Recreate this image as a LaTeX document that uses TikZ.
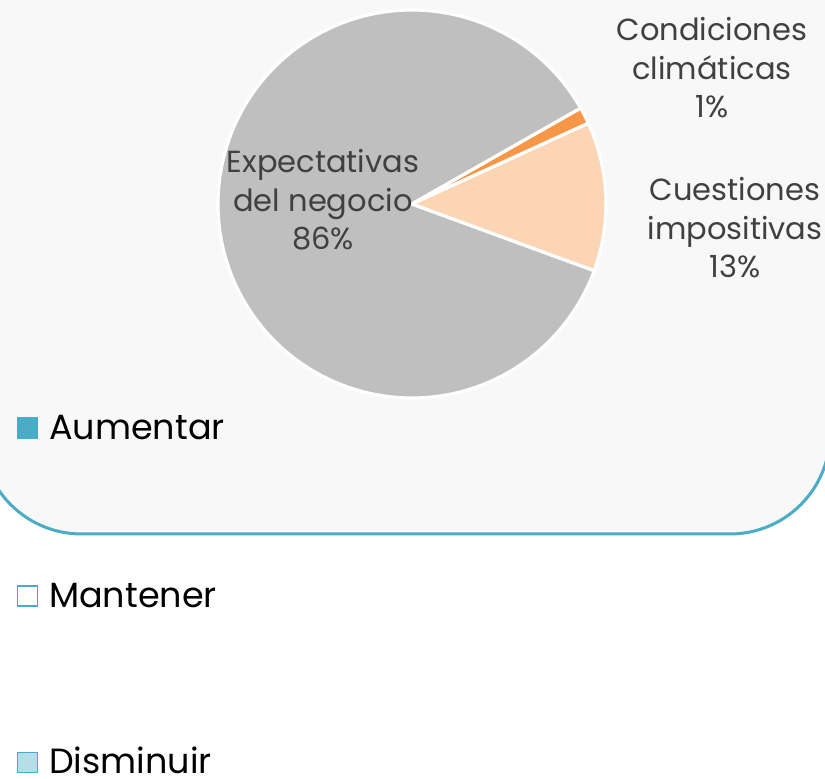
\documentclass[tikz,border=0pt]{standalone}
\usepackage{fontspec}
\setmainfont{Poppins}
\definecolor{bgc}{HTML}{F8F8F8}
\definecolor{tealc}{HTML}{4BACC6}
\definecolor{lightteal}{HTML}{B7DEE8}
\definecolor{slicegray}{HTML}{BFBFBF}
\definecolor{sliceorange}{HTML}{F79646}
\definecolor{slicepeach}{HTML}{FCD5B5}
\definecolor{labelc}{HTML}{404040}
\tikzset{
  slice/.style={draw=white, line width=3.2pt, line join=round},
  pielabel/.style={align=center, inner sep=0pt, text=labelc, font=\fontsize{30.5}{38.5}\selectfont, anchor=base},
  legsq/.style={draw=tealc, line width=1.5pt, minimum size=20pt, inner sep=0pt},
  legtext/.style={anchor=base west, inner sep=0pt, font=\fontsize{35}{40}\selectfont}
}
\begin{document}
\begin{tikzpicture}[x=1pt,y=1pt]
\useasboundingbox (0,0) rectangle (825,779);
\clip (0,0) rectangle (825,779);
\fill[white] (0,0) rectangle (825,779);
\draw[fill=bgc, draw=tealc, line width=3pt, rounded corners=100pt] (-18.5,245) rectangle (830,900);
\coordinate (c) at (412,575);
\filldraw[slice, fill=slicegray] (c) -- ++(29.6:194) arc[start angle=29.6, end angle=339.9, radius=194] -- cycle;
\filldraw[slice, fill=sliceorange] (c) -- ++(24.6:194) arc[start angle=24.6, end angle=29.6, radius=194] -- cycle;
\filldraw[slice, fill=slicepeach] (c) -- ++(-20.1:194) arc[start angle=-20.1, end angle=24.6, radius=194] -- cycle;
\node[pielabel] (lexp) at (323,529) {Expectativas\\del negocio\\86\%};
\node[pielabel] (lcond) at (712,661) {Condiciones\\climáticas\\1\%};
\node[pielabel] (lcuest) at (735,501) {Cuestiones\\impositivas\\13\%};
\node[legsq, fill=tealc] (sqA) at (27.5,351) {};
\node[legtext] (tA) at (49,339) {Aumentar};
\node[legsq, fill=white] (sqM) at (27.5,183) {};
\node[legtext] (tM) at (49,171) {Mantener};
\node[legsq, fill=lightteal] (sqD) at (27.5,16.5) {};
\node[legtext] (tD) at (49,5) {Disminuir};
\end{tikzpicture}
\end{document}
